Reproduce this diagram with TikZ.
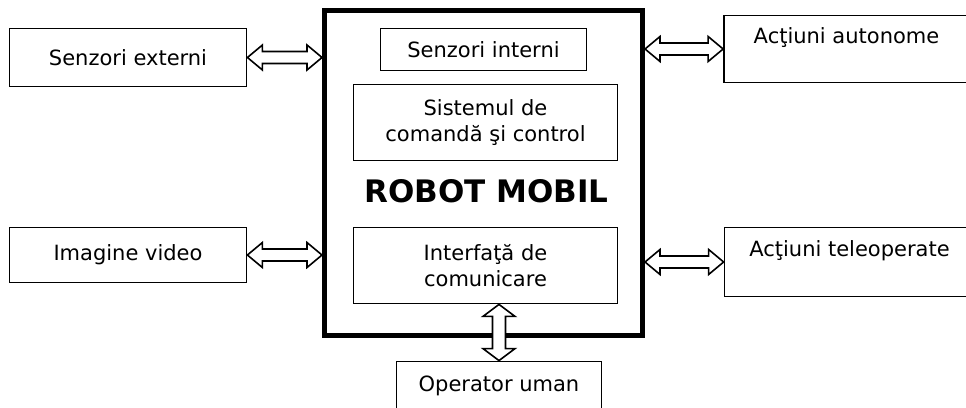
\documentclass[tikz,border=0pt]{standalone}
\usepackage{fontspec}
\setmainfont{DejaVu Sans}
\usetikzlibrary{calc}

\tikzset{
  blk/.style={draw, line width=1.8pt, fill=white, inner sep=0pt, align=center,
    font=\fontsize{21}{26}\selectfont},
  % hollow two-headed arrows, left to right / bottom to top
  harrow/.style={draw, line width=1.6pt, fill=white, to path={
    let \p1=(\tikztostart), \p2=(\tikztotarget) in
    (\x1,\y1) -- (\x1+15pt,\y1+12.5pt) -- (\x1+15pt,\y1+6pt) -- (\x2-15pt,\y1+6pt)
    -- (\x2-15pt,\y1+12.5pt) -- (\x2,\y1) -- (\x2-15pt,\y1-12.5pt) -- (\x2-15pt,\y1-6pt)
    -- (\x1+15pt,\y1-6pt) -- (\x1+15pt,\y1-12.5pt) -- cycle}},
  varrow/.style={draw, line width=1.6pt, fill=white, to path={
    let \p1=(\tikztostart), \p2=(\tikztotarget) in
    (\x1,\y1) -- (\x1+16pt,\y1+12pt) -- (\x1+6.5pt,\y1+12pt) -- (\x1+6.5pt,\y2-12pt)
    -- (\x1+16pt,\y2-12pt) -- (\x1,\y2) -- (\x1-16pt,\y2-12pt) -- (\x1-6.5pt,\y2-12pt)
    -- (\x1-6.5pt,\y1+12pt) -- (\x1-16pt,\y1+12pt) -- cycle}}
}

\begin{document}
\begin{tikzpicture}[x=1pt,y=-1pt]
  \clip (0,0) rectangle (966,407);
  \fill[white] (0,0) rectangle (966,407);

  % the robot and what it holds
  \node[draw, line width=5pt, minimum width=318pt, minimum height=325pt] (robot) at (483.5,173) {};
  \node[blk, minimum width=206pt, minimum height=42pt] (sint) at (483.5,49.5) {Senzori interni};
  \node[blk, minimum width=264pt, minimum height=76pt] (cmd) at (485.5,122.5) {Sistemul de\\comandă şi control};
  \node[font=\bfseries\fontsize{31}{36}\selectfont] (title) at (486.5,191) {ROBOT MOBIL};
  \node[blk, minimum width=264pt, minimum height=76pt] (comm) at (485.5,265.5) {Interfaţă de\\comunicare};

  % outside blocks
  \node[blk, minimum width=237pt, minimum height=58pt] (ext) at (128,57.5) {Senzori externi};
  \node[blk, minimum width=237pt, minimum height=55pt] (vid) at (128,255) {Imagine video};
  \node[blk, minimum width=245pt, minimum height=67pt] (aut) at (846.5,49) {Acţiuni autonome\\\mbox{}};
  \node[blk, minimum width=250pt, minimum height=69pt] (tel) at (849.5,262) {Acţiuni teleoperate\\\mbox{}};
  \node[blk, minimum width=205pt, minimum height=49pt] (op) at (499,386) {Operator uman};

  % links
  \draw[harrow] (ext.east) to (ext.east -| robot.west);
  \draw[harrow] (vid.east) to (vid.east -| robot.west);
  \draw[harrow] (aut.west -| robot.east) to (aut.west);
  \draw[harrow] (tel.west -| robot.east) to (tel.west);
  \draw[varrow] (op.north) to (op.north |- comm.south);
\end{tikzpicture}
\end{document}
